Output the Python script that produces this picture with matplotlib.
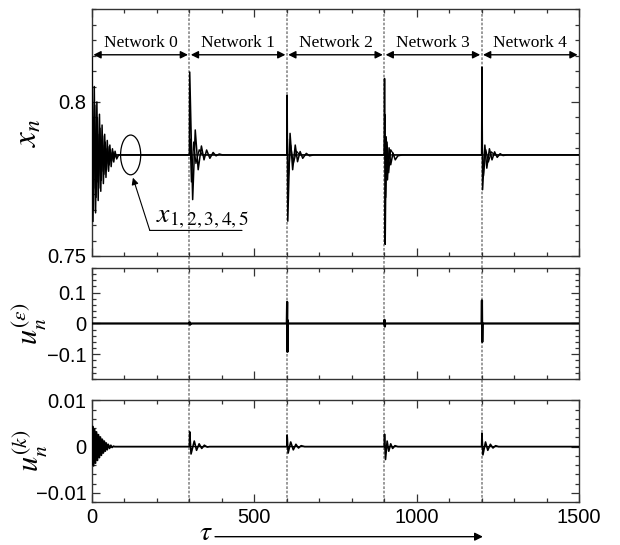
# Three-panel response of x_n, u_n^(eps), u_n^(k) over tau for networks 0-4

import matplotlib
matplotlib.use("Agg")
import matplotlib.pyplot as plt
from matplotlib.patches import Ellipse
from matplotlib.ticker import MultipleLocator

plt.rcParams['font.family'] = ['Liberation Sans', 'DejaVu Sans']
plt.rcParams['mathtext.fontset'] = 'stix'

# ---- data (extrema) ----
x_steady = 0.7828
network_names = ["Network 0", "Network 1", "Network 2", "Network 3", "Network 4"]
network_edges = [0, 300, 600, 900, 1200, 1500]

# x_n, main curve (networks 0..4)
xa_t = [0, 3, 7, 11, 15, 19, 23, 27, 31, 35, 39, 43, 47, 51, 55, 59, 63, 67, 71, 76, 82,
        300, 301, 310, 318, 327, 337, 345, 353, 363, 373, 382, 392, 402,
        600, 601, 603, 610, 618, 626, 633, 641, 649, 660, 670, 682,
        900, 901, 903, 906, 910, 915, 920, 927, 934, 942, 955,
        1200, 1201, 1203, 1210, 1216, 1224, 1232, 1240, 1248, 1257, 1266, 1278,
        1500]
xa_v = [0.8145, 0.7612, 0.8050, 0.7640, 0.8000, 0.7680, 0.7960, 0.7710, 0.7925, 0.7735,
        0.7895, 0.7755, 0.7875, 0.7775, 0.7860, 0.7790, 0.7848, 0.7805, 0.7840, 0.7815, 0.7828,
        0.7828, 0.8097, 0.7683, 0.7909, 0.7780, 0.7857, 0.7812, 0.7844, 0.7817, 0.7836, 0.7825, 0.7831, 0.7828,
        0.7828, 0.8022, 0.7613, 0.7898, 0.7780, 0.7860, 0.7806, 0.7839, 0.7817, 0.7833, 0.7825, 0.7828,
        0.7828, 0.8076, 0.7538, 0.7887, 0.7747, 0.7851, 0.7796, 0.7834, 0.7812, 0.7825, 0.7828,
        0.7828, 0.8113, 0.7715, 0.7860, 0.7785, 0.7848, 0.7812, 0.7838, 0.7820, 0.7832, 0.7826, 0.7828,
        0.7828]

# x_n, other curves (mostly visible in network 0 and at the switches)
xb_t = [0, 1, 5, 9, 13, 17, 21, 25, 29, 33, 37, 41, 45, 49, 53, 57, 61, 65, 69, 74,
        300, 302, 306, 313, 320, 330, 340,
        600, 602, 605, 612, 620, 630, 640,
        900, 902, 905, 909, 914, 920, 930,
        1200, 1202, 1206, 1213, 1221, 1230, 1240,
        1500]
xb_v = [0.7828, 0.8020, 0.7650, 0.7990, 0.7690, 0.7950, 0.7720, 0.7915, 0.7745, 0.7890,
        0.7765, 0.7870, 0.7780, 0.7855, 0.7795, 0.7845, 0.7808, 0.7838, 0.7818, 0.7828,
        0.7828, 0.7880, 0.7740, 0.7870, 0.7800, 0.7845, 0.7828,
        0.7828, 0.7880, 0.7760, 0.7860, 0.7800, 0.7840, 0.7828,
        0.7828, 0.7960, 0.7690, 0.7870, 0.7770, 0.7845, 0.7828,
        0.7828, 0.7850, 0.7760, 0.7845, 0.7805, 0.7838, 0.7828,
        0.7828]

xc_t = [0, 2, 6, 10, 14, 18, 22, 26, 30, 34, 38, 42, 46, 50, 54, 58, 62, 66, 72, 1500]
xc_v = [0.7828, 0.7700, 0.7950, 0.7720, 0.7920, 0.7740, 0.7895, 0.7760, 0.7875, 0.7775,
        0.7860, 0.7790, 0.7848, 0.7800, 0.7840, 0.7810, 0.7835, 0.7818, 0.7828, 0.7828]

# u_n^(eps)
ue_t = [0, 300, 301, 302, 303, 600, 601, 602, 603, 604, 900, 901, 902, 903,
        1200, 1201, 1202, 1203, 1500]
ue_v = [0, 0, 0.004, -0.004, 0, 0, 0.070, -0.092, 0.010, 0, 0, 0.012, -0.010, 0,
        0, 0.075, -0.060, 0, 0]

# u_n^(k)
uk_t = [0, 2, 5, 8, 11, 14, 17, 20, 23, 26, 29, 32, 35, 38, 41, 44, 47, 50, 54, 58, 62, 66, 70, 75,
        300, 301, 305, 315, 322, 330, 338, 346, 355, 362,
        600, 601, 604, 612, 620, 628, 636, 644, 655,
        900, 901, 904, 909, 914, 920, 926, 933, 942,
        1200, 1201, 1204, 1212, 1219, 1227, 1235, 1243, 1252,
        1500]
uk_v = [0.0, 0.0044, -0.0042, 0.0038, -0.0036, 0.0032, -0.0030, 0.0026, -0.0024, 0.0021,
        -0.0019, 0.0016, -0.0014, 0.0012, -0.0010, 0.0008, -0.0007, 0.0005, -0.0004, 0.0003,
        -0.0002, 0.0001, 0.0, 0.0,
        0.0, 0.0032, -0.0016, 0.0012, -0.0008, 0.0006, -0.0004, 0.0003, -0.0001, 0.0,
        0.0, 0.0025, -0.0014, 0.0010, -0.0007, 0.0005, -0.0003, 0.0002, 0.0,
        0.0, 0.0027, -0.0028, 0.0012, -0.0010, 0.0006, -0.0004, 0.0002, 0.0,
        0.0, 0.0029, -0.0018, 0.0010, -0.0008, 0.0005, -0.0003, 0.0002, 0.0,
        0.0]
uk2_t = [0, 1, 4, 7, 10, 13, 16, 19, 22, 25, 28, 31, 34, 37, 40, 45, 50, 56, 64, 1500]
uk2_v = [0.0, -0.0040, 0.0040, -0.0036, 0.0033, -0.0030, 0.0027, -0.0024, 0.0022, -0.0019,
         0.0017, -0.0015, 0.0013, -0.0011, 0.0009, -0.0006, 0.0004, -0.0002, 0.0, 0.0]

# tick labels
x_ticks = [0, 500, 1000, 1500]
x_ticklabels = ["0", "500", "1000", "1500"]
x_ticks_top = [0.75, 0.8]
x_ticklabels_top = ["0.75", "0.8"]
ue_ticks = [-0.1, 0, 0.1]
ue_ticklabels = ["\u22120.1", "0", "0.1"]
uk_ticks = [-0.01, 0, 0.01]
uk_ticklabels = ["\u22120.01", "0", "0.01"]

# ---- figure ----
fig = plt.figure(figsize=(6.2, 5.45), dpi=100)
ax1 = fig.add_axes([0.1484, 0.5303, 0.7855, 0.4523])
ax2 = fig.add_axes([0.1484, 0.3046, 0.7855, 0.2037])
ax3 = fig.add_axes([0.1484, 0.0789, 0.7855, 0.1872])

dash = dict(color="#8a8a8a", lw=1.2, linestyle=(0, (1.6, 1.0)), zorder=1, clip_on=False)
for ax, lo in [(ax1, -0.049), (ax2, -0.19), (ax3, 0.0)]:
    for xv in network_edges[1:-1]:
        ax.axvline(xv, ymin=lo, ymax=1, **dash)

ax1.plot(xc_t, xc_v, color="black", lw=0.9, zorder=3)
ax1.plot(xb_t, xb_v, color="black", lw=0.9, zorder=3)
ax1.plot(xa_t, xa_v, color="black", lw=1.1, zorder=3)
ax2.plot(ue_t, ue_v, color="black", lw=1.6, zorder=3)
ax3.plot(uk2_t, uk2_v, color="black", lw=0.9, zorder=3)
ax3.plot(uk_t, uk_v, color="black", lw=1.2, zorder=3)

ax1.set_ylim(0.75, 0.83)
ax2.set_ylim(-0.18, 0.18)
ax3.set_ylim(-0.012, 0.0101)

ax1.set_yticks(x_ticks_top)
ax1.set_yticklabels(x_ticklabels_top)
ax1.yaxis.set_minor_locator(MultipleLocator(0.005))
ax2.set_yticks(ue_ticks)
ax2.set_yticklabels(ue_ticklabels)
ax2.yaxis.set_minor_locator(MultipleLocator(0.02))
ax3.set_yticks(uk_ticks)
ax3.set_yticklabels(uk_ticklabels)
ax3.yaxis.set_minor_locator(MultipleLocator(0.002))

for ax in (ax1, ax2, ax3):
    ax.set_xlim(0, 1500)
    ax.set_xticks(x_ticks)
    ax.xaxis.set_minor_locator(MultipleLocator(100))
    ax.tick_params(which="both", direction="in", top=True, right=True, labelsize=14.5,
                   color="#333333", width=0.9)
    ax.tick_params(which="major", length=5.5, pad=4)
    ax.tick_params(which="minor", length=2.8)
    for s in ax.spines.values():
        s.set_linewidth(1.0)
        s.set_color("#333333")
ax1.set_xticklabels([])
ax2.set_xticklabels([])
ax3.set_xticklabels(x_ticklabels)

# y labels
ax1.set_ylabel(r"$x_n$", fontsize=24)
ax1.yaxis.set_label_coords(-0.10, 0.5)
ax2.set_ylabel(r"$u_n^{(\varepsilon)}$", fontsize=22)
ax2.yaxis.set_label_coords(-0.088, 0.5)
ax3.set_ylabel(r"$u_n^{(k)}$", fontsize=22)
ax3.yaxis.set_label_coords(-0.088, 0.5)

# network spans
for i, name in enumerate(network_names):
    a, b = network_edges[i], network_edges[i + 1]
    ax1.annotate("", xy=(b, 0.8153), xytext=(a, 0.8153),
                 arrowprops=dict(arrowstyle="<|-|>", color="black", lw=1.0,
                                 mutation_scale=11, shrinkA=1, shrinkB=1))
    ax1.text((a + b) / 2, 0.8192, name, ha="center", va="center",
             family="Liberation Serif", fontsize=12.5)

# x_{1..5} callout
ax1.add_patch(Ellipse((119, x_steady), width=62, height=0.0129, fill=False,
                      lw=0.9, color="black", zorder=4))
ax1.annotate("", xy=(126, 0.7754), xytext=(178, 0.7583),
             arrowprops=dict(arrowstyle="-|>", color="black", lw=0.8,
                             mutation_scale=10, shrinkA=0, shrinkB=0))
ax1.annotate("", xy=(462, 0.7583), xytext=(178, 0.7583),
             arrowprops=dict(arrowstyle="-", color="black", lw=0.8,
                             shrinkA=0, shrinkB=0))
ax1.text(198, 0.7624, r"$x_{\mathit{1,2,3,4,5}}$", fontsize=20, ha="left", va="center")

# tau axis label with arrow
tr = ax3.get_xaxis_transform()
ax3.text(351, -0.30, r"$\tau$", transform=tr, fontsize=20, ha="center", va="center")
ax3.annotate("", xy=(1204, -0.34), xytext=(379, -0.34), xycoords=tr, textcoords=tr,
             arrowprops=dict(arrowstyle="-|>", color="black", lw=1.0,
                             mutation_scale=12, shrinkA=0, shrinkB=0))

fig.savefig("out.png", dpi=100)
